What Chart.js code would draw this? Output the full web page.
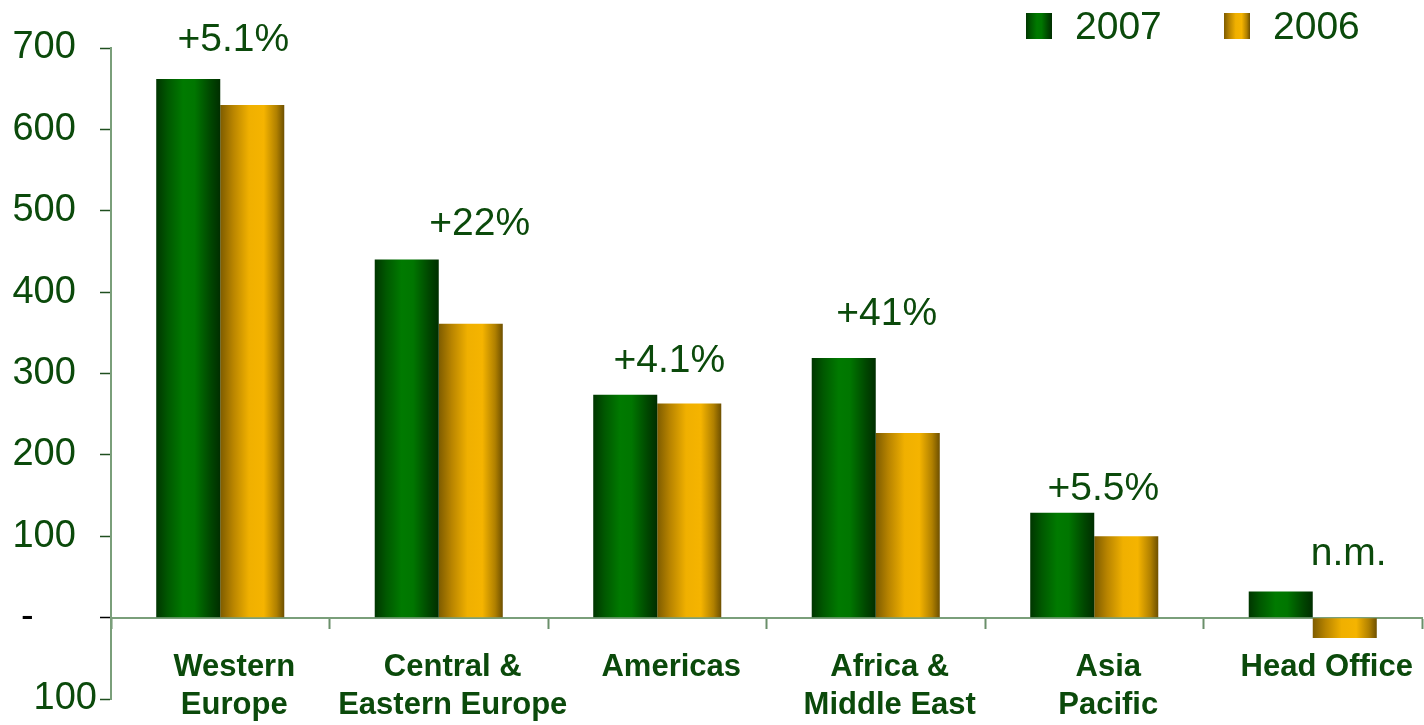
<!DOCTYPE html>
<html><head><meta charset="utf-8">
<script src="https://cdn.jsdelivr.net/npm/chart.js@4/dist/chart.umd.min.js"></script>
<style>html,body{margin:0;padding:0;background:#fff;overflow:hidden}#wrap{width:1424px;height:725px;position:relative}</style>
</head><body><div id="wrap"><canvas id="c" width="1424" height="725"></canvas></div>
<script>
// ---- data ----
const categories = [["Western","Europe"],["Central &","Eastern Europe"],["Americas"],["Africa &","Middle East"],["Asia","Pacific"],["Head Office"]];
const seriesNames = ["2007","2006"];
const values2007 = [662, 440, 274, 319, 129, 32];
const values2006 = [630, 361, 263, 227, 100, -25];
const changeLabels = ["+5.1%","+22%","+4.1%","+41%","+5.5%","n.m."];
const yMin = -100, yMax = 700, yStep = 100;

// ---- styles ----
const FONT = "'Liberation Sans', Arial, sans-serif";
const TEXT = '#0b4a0b';
const stops = [
  [[0,'#003600'],[0.18,'#005800'],[0.42,'#007a00'],[0.6,'#007600'],[0.85,'#004600'],[1,'#002e00']],
  [[0,'#7e5c00'],[0.2,'#b88400'],[0.45,'#f0b000'],[0.68,'#f5b400'],[0.88,'#b08000'],[1,'#6e5000']]
];
function grad(ctx, x0, x1, i){
  const g = ctx.createLinearGradient(x0,0,x1,0);
  stops[i].forEach(([o,c])=>g.addColorStop(o,c));
  return g;
}
const annDx = [13, 41, 12, 11, 9, 36];
const annDy = [-39, -35, -33, -44, -23, -37];

const gradPlugin = {
  id:'grad',
  beforeDatasetsDraw(chart){
    const ctx = chart.ctx;
    chart.data.datasets.forEach((ds,i)=>{
      chart.getDatasetMeta(i).data.forEach(el=>{
        const p = el.getProps(['x','width'], true);
        el.options = Object.assign({}, el.options, {backgroundColor: grad(ctx, p.x - p.width/2, p.x + p.width/2, i)});
      });
    });
  }
};
const annPlugin = {
  id:'ann',
  afterDatasetsDraw(chart){
    const ctx = chart.ctx, xs = chart.scales.x, ys = chart.scales.y;
    ctx.save();
    ctx.font = '39px ' + FONT;
    ctx.fillStyle = TEXT;
    ctx.textAlign = 'center';
    ctx.textBaseline = 'middle';
    changeLabels.forEach((t,i)=>{
      const top = Math.max(values2007[i], values2006[i], 0);
      ctx.fillText(t, xs.getPixelForValue(i) + annDx[i], ys.getPixelForValue(top) + annDy[i]);
    });
    ctx.restore();
  }
};
const legendPlugin = {
  id:'leg',
  afterDraw(chart){
    const ctx = chart.ctx;
    const boxX = [1026, 1224], textX = [1075, 1273];
    ctx.save();
    chart.data.datasets.forEach((ds,i)=>{
      ctx.fillStyle = grad(ctx, boxX[i], boxX[i]+26, i);
      ctx.fillRect(boxX[i], 13, 26, 26);
      ctx.font = '39px ' + FONT;
      ctx.fillStyle = TEXT;
      ctx.textAlign = 'left';
      ctx.textBaseline = 'middle';
      ctx.fillText(ds.label, textX[i], 28);
    });
    ctx.restore();
  }
};

new Chart(document.getElementById('c'), {
  type:'bar',
  data:{
    labels: categories,
    datasets:[
      {label: seriesNames[0], data: values2007, backgroundColor:'#007a00', borderWidth:0},
      {label: seriesNames[1], data: values2006, backgroundColor:'#f5b400', borderWidth:0}
    ]
  },
  options:{
    responsive:false,
    animation:false,
    events:[],
    categoryPercentage:0.586,
    barPercentage:1,
    layout:{padding:{top:48, right:2, bottom:26, left:0}},
    plugins:{legend:{display:false}, tooltip:{enabled:false}},
    scales:{
      x:{
        position:{y:0},
        z:1,
        offset:true,
        grid:{drawOnChartArea:false, tickLength:10, tickColor:'#6a8f6a', tickWidth:2, offset:true},
        border:{color:'#7a9f7a', width:2},
        ticks:{font:{family:FONT, size:31, weight:'bold', lineHeight:1.22}, color:TEXT, padding:21, labelOffset:14, maxRotation:0, minRotation:0, autoSkip:false}
      },
      y:{
        min:yMin, max:yMax,
        afterFit(s){ s.width = 111; },
        grid:{drawOnChartArea:false, tickLength:11, tickWidth:1.5, tickColor:c=> c.tick && c.tick.value===0 ? '#000' : '#1f4f1f'},
        border:{color:'#7a9f7a', width:2},
        ticks:{stepSize:yStep, padding:3, font:{family:FONT, size:38}, color:c=> c.tick && c.tick.value===0 ? '#000' : TEXT,
          callback:v=> v===0 ? '-      ' : (v<0 ? String(-v) : v + '  ')}
      }
    }
  },
  plugins:[gradPlugin, annPlugin, legendPlugin]
});
</script></body></html>
